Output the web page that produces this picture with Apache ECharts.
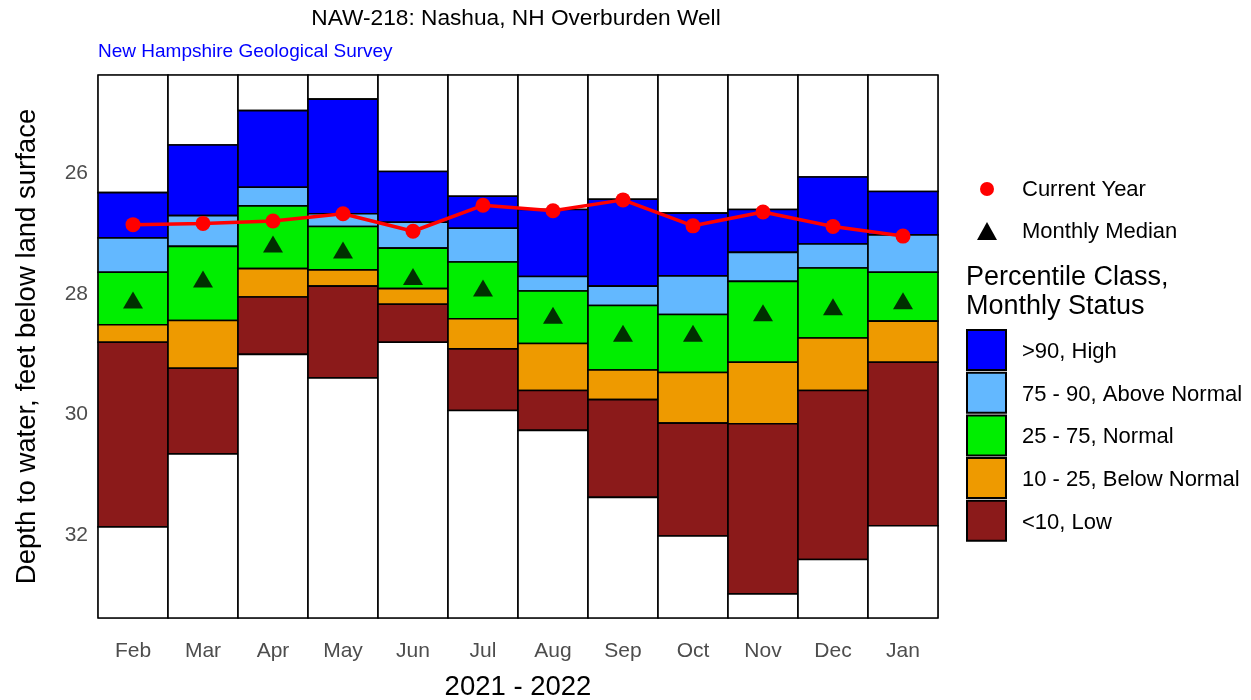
<!DOCTYPE html>
<html><head><meta charset="utf-8">
<script src="https://cdn.jsdelivr.net/npm/echarts@6/dist/echarts.min.js"></script>
<style>html,body{margin:0;padding:0;background:#fff}#c{width:1251px;height:700px}</style>
</head><body><div id="c"></div>
<script>
// ---- data (depth to water, feet below land surface) ----
const months = ['Feb','Mar','Apr','May','Jun','Jul','Aug','Sep','Oct','Nov','Dec','Jan'];
const recordMin = [26.32, 25.53, 24.96, 24.77, 25.97, 26.38, 26.60, 26.43, 26.66, 26.60, 26.06, 26.30];
const p90       = [27.07, 26.70, 26.23, 26.67, 26.81, 26.91, 27.71, 27.87, 27.70, 27.31, 27.17, 27.02];
const p75       = [27.64, 27.21, 26.54, 26.88, 27.24, 27.47, 27.95, 28.19, 28.34, 27.79, 27.57, 27.64];
const p25       = [28.51, 28.44, 27.58, 27.60, 27.91, 28.41, 28.82, 29.26, 29.30, 29.13, 28.73, 28.45];
const p10       = [28.80, 29.23, 28.05, 27.87, 28.17, 28.91, 29.60, 29.75, 30.14, 30.15, 29.60, 29.13];
const recordMax = [31.86, 30.65, 29.00, 29.39, 28.80, 29.93, 30.26, 31.37, 32.01, 32.97, 32.40, 31.84];
const currentYear   = [26.85, 26.83, 26.79, 26.67, 26.96, 26.53, 26.62, 26.44, 26.87, 26.64, 26.88, 27.04];
const monthlyMedian = [28.10, 27.75, 27.17, 27.27, 27.71, 27.90, 28.35, 28.65, 28.65, 28.31, 28.21, 28.11];
const yTicks = [26, 28, 30, 32];
const yMin = 24.37, yMax = 33.37;
const classNames = ['>90, High','75 - 90, Above Normal','25 - 75, Normal','10 - 25, Below Normal','<10, Low'];

const classColors = ['#FFFFFF','#0000FF','#63B8FF','#00EE00','#EE9A00','#8B1A1A','#FFFFFF'];
const FONT = '"Liberation Sans", Arial, sans-serif';

const segData = [];
months.forEach((m, i) => {
  const b = [yMin, recordMin[i], p90[i], p75[i], p25[i], p10[i], recordMax[i], yMax];
  for (let k = 0; k < 7; k++) segData.push([i, b[k], b[k+1], k]);
});

const chart = echarts.init(document.getElementById('c'), null, {renderer:'canvas'});

const legendG = [];
legendG.push({type:'circle', shape:{cx:987, cy:189, r:7}, style:{fill:'#FF0000'}});
legendG.push({type:'text', left:1022, top:179, style:{text:'Current Year', font:'22px ' + FONT, fill:'#000'}});
legendG.push({type:'polygon', shape:{points:[[987,222],[977,240],[997,240]]}, style:{fill:'#000'}});
legendG.push({type:'text', left:1022, top:221, style:{text:'Monthly Median', font:'22px ' + FONT, fill:'#000'}});
legendG.push({type:'text', left:966, top:263, style:{text:'Percentile Class,\nMonthly Status', font:'27px ' + FONT, lineHeight:29, fill:'#000'}});
for (let k = 0; k < 5; k++) {
  const top = 330 + k * 42.7;
  legendG.push({type:'rect', shape:{x:967, y:top, width:39, height:40}, style:{fill:classColors[k+1], stroke:'#000', lineWidth:2}});
  legendG.push({type:'text', left:1022, top:top + 11, style:{text:classNames[k], font:'22px ' + FONT, fill:'#000'}});
}

chart.setOption({
  animation:false,
  backgroundColor:'#fff',
  title:[
    {text:'NAW-218: Nashua, NH Overburden Well', left:511, top:2, textAlign:'center',
     textStyle:{fontFamily:FONT, fontSize:22.7, fontWeight:'normal', color:'#000'}},
    {text:'New Hampshire Geological Survey', left:93, top:37,
     textStyle:{fontFamily:FONT, fontSize:19, fontWeight:'normal', color:'#0000FF'}}
  ],
  grid:{left:98, right:313, top:75, bottom:82, show:true, borderColor:'#555', borderWidth:1,
        backgroundColor:'transparent', containLabel:false, outerBoundsMode:'none'},
  xAxis:{
    type:'category', data:months, boundaryGap:true,
    name:'2021 - 2022', nameLocation:'middle', nameGap:55,
    nameTextStyle:{fontFamily:FONT, fontSize:27.5, color:'#000'},
    axisLine:{show:false}, axisTick:{show:false},
    axisLabel:{fontFamily:FONT, fontSize:21, color:'#4d4d4d', margin:23},
    splitLine:{show:false}
  },
  yAxis:{
    type:'value', inverse:true, min:yMin, max:yMax,
    name:'Depth to water, feet below land surface', nameLocation:'middle', nameGap:57,
    nameTextStyle:{fontFamily:FONT, fontSize:27.5, color:'#000'},
    axisLine:{show:false}, axisTick:{show:false},
    axisLabel:{fontFamily:FONT, fontSize:21, color:'#4d4d4d', margin:10, customValues:yTicks},
    splitLine:{show:false}
  },
  series:[
    {
      type:'custom', data:segData, encode:{x:0, y:[1,2]}, z:1,
      renderItem:function(params, api){
        const i = api.value(0);
        const a = api.coord([i, api.value(1)]);
        const b = api.coord([i, api.value(2)]);
        const w = api.size([1, 0])[0];
        const y0 = Math.min(a[1], b[1]), y1 = Math.max(a[1], b[1]);
        return {type:'rect', shape:{x:a[0] - w/2, y:y0, width:w, height:y1 - y0},
          style:{fill:classColors[api.value(3)], stroke:'#000', lineWidth:1.6}};
      }
    },
    {
      type:'scatter', data:monthlyMedian, symbol:'triangle', symbolSize:[20,17], z:3,
      itemStyle:{color:'#000'}
    },
    {
      type:'line', data:currentYear, symbol:'circle', symbolSize:15, z:4,
      lineStyle:{color:'#FF0000', width:3.5}, itemStyle:{color:'#FF0000'}
    }
  ],
  graphic:legendG
});
</script></body></html>
